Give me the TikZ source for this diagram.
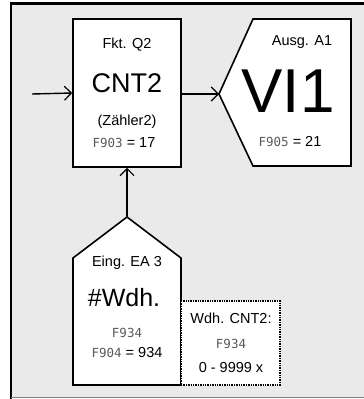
\documentclass[tikz,border=0pt]{standalone}
\usepackage{fontspec}
\setmainfont{Liberation Sans}
\newfontfamily\lcd{DejaVu Sans Mono}
\usetikzlibrary{positioning,arrows.meta}
\definecolor{panel}{RGB}{234,234,234}
\definecolor{lcdgray}{RGB}{90,90,90}
\newcommand{\seg}[1]{{\lcd\color{lcdgray}\fontsize{12.5}{12.5}\selectfont #1}}
\begin{document}
\begin{tikzpicture}[x=1pt,y=-1pt,line join=miter,thick]
	\tikzset{every node/.style={inner sep=0pt,font=\fontsize{14.5}{16}\selectfont},
		block/.style={draw,fill=white,line width=1.6pt},
		arr/.style={-{Straight Barb[length=7pt,width=14pt,line width=1.2pt]},line width=1.4pt}}
	\useasboundingbox (0,0) rectangle (364,399);
	% panel
	\fill[panel] (11,3) rectangle (364,397);
	\draw[line width=2.4pt] (11,399)--(11,3.6)--(364,3.6);
	\draw[gray,line width=1.2pt] (11,397.4)--(364,397.4);
	% counter block
	\node[block,minimum width=108pt,minimum height=148pt] (cnt) at (127,93) {};
	\node (cntfkt) at (127,45) {Fkt. Q2};
	\node[font=\fontsize{27}{29}\selectfont] (cntname) at (127,83) {CNT2};
	\node (cntsub) at (127,122) {(Zähler2)};
	\node (cntpar) at (124,143) {\seg{F903} = 17};
	% output block
	\coordinate (vitip) at (219,94);
	\draw[block] (vitip)--(253,19)--(351,19)--(351,166)--(253,166)--cycle;
	\node (vifkt) at (302,42) {Ausg. A1};
	\node[font=\fontsize{62}{64}\selectfont] (viname) at (288,91) {VI1};
	\node (vipar) at (290,142) {\seg{F905} = 21};
	% input block
	\coordinate (eatip) at (127,217);
	\draw[block] (eatip)--(181,258)--(181,385)--(73,385)--(73,258)--cycle;
	\node (eafkt) at (127,263) {Eing. EA 3};
	\node[font=\fontsize{25}{27}\selectfont] (eaname) at (124,298) {\#Wdh.};
	\node (eapar) at (127,333) {\seg{F934}};
	\node (eaval) at (127,353) {\seg{F904} = 934};
	% note
	\draw[densely dotted,fill=white,line width=1.4pt] (181,301) rectangle (280,385);
	\node (notetitle) at (231,318) {Wdh. CNT2:};
	\node (notepar) at (231,344) {\seg{F934}};
	\node (noterange) at (231,368) {0 - 9999 x};
	% connectors
	\coordinate (in) at (32,94);
	\draw[arr] (in)--(cnt.west);
	\draw[arr] (cnt.east|-vitip)--(vitip);
	\draw[arr] (eatip)--(cnt.south);
\end{tikzpicture}
\end{document}
